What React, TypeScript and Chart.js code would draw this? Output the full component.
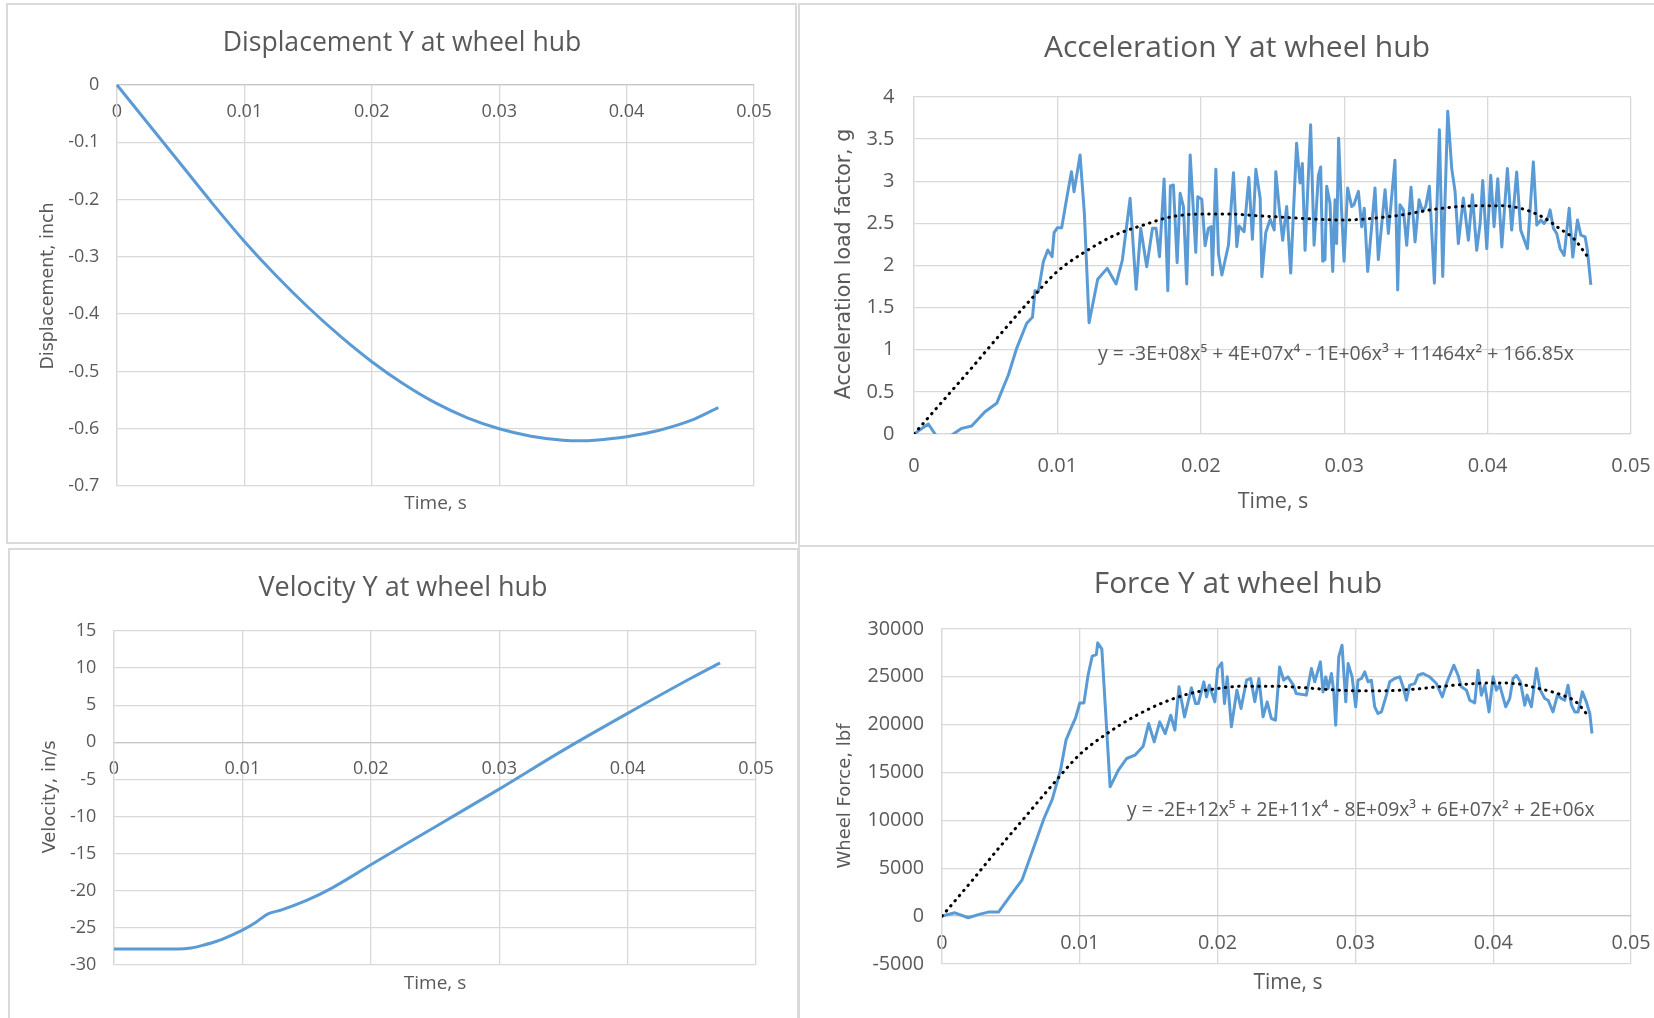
import React, { useEffect, useRef } from "react";
import { Chart, registerables } from "chart.js";

Chart.register(...registerables);

// ---------- series data ----------
// Displacement Y at wheel hub (inch)
const dispTime = [0, 0.0025, 0.005, 0.0075, 0.01, 0.0125, 0.015, 0.0175, 0.02, 0.0225, 0.025, 0.0275, 0.03, 0.0325, 0.035, 0.0365, 0.0375, 0.04, 0.0425, 0.045, 0.0472];
const dispInch = [0, -0.069, -0.138, -0.207, -0.273, -0.333, -0.388, -0.438, -0.483, -0.522, -0.555, -0.581, -0.6, -0.613, -0.62, -0.621, -0.62, -0.614, -0.603, -0.586, -0.563];

// Velocity Y at wheel hub (in/s)
const velTime = [0, 0.002, 0.004, 0.005, 0.006, 0.007, 0.008, 0.009, 0.01, 0.011, 0.012, 0.013, 0.015, 0.017, 0.02, 0.025, 0.03, 0.035, 0.04, 0.045, 0.0472];
const velInS = [-27.85, -27.85, -27.85, -27.85, -27.7, -27.3, -26.8, -26.1, -25.3, -24.3, -23.1, -22.6, -21.3, -19.6, -16.5, -11.4, -6.3, -1.05, 3.9, 8.7, 10.7];

// Acceleration Y at wheel hub (g)
const accTime = [
  0, 0.001, 0.0017, 0.0023, 0.00333, 0.00402, 0.00495, 0.00577, 0.00658, 0.00716,
  0.00786, 0.00826, 0.00844, 0.00867, 0.00902, 0.00933, 0.00963, 0.00977, 0.01, 0.0103,
  0.01065, 0.01098, 0.01116, 0.01158, 0.01188, 0.01221, 0.01281, 0.01347, 0.01409, 0.01453,
  0.01507, 0.01549, 0.01581, 0.01623, 0.01663, 0.01688, 0.01712, 0.01744, 0.0177, 0.01788,
  0.01809, 0.01835, 0.01856, 0.01879, 0.01902, 0.01926, 0.01965, 0.01979, 0.02007, 0.0203,
  0.02053, 0.02072, 0.02081, 0.02105, 0.02123, 0.02147, 0.02193, 0.02228, 0.02251, 0.02267,
  0.02302, 0.02335, 0.0236, 0.02384, 0.02414, 0.02426, 0.02453, 0.02484, 0.02512, 0.02523,
  0.02547, 0.02571, 0.02599, 0.02627, 0.02668, 0.02692, 0.02708, 0.02727, 0.02766, 0.0279,
  0.0282, 0.02836, 0.0285, 0.02866, 0.02878, 0.02901, 0.0292, 0.02936, 0.02947, 0.02961,
  0.02982, 0.02999, 0.03024, 0.03052, 0.03068, 0.03099, 0.03122, 0.0314, 0.03164, 0.03215,
  0.03238, 0.03285, 0.03308, 0.03354, 0.03373, 0.03389, 0.03413, 0.03436, 0.03466, 0.03494,
  0.03522, 0.03547, 0.03568, 0.03594, 0.03629, 0.03664, 0.03687, 0.03722, 0.0375, 0.03773,
  0.03796, 0.03831, 0.03866, 0.03894, 0.03924, 0.03948, 0.03966, 0.03994, 0.04022, 0.04045,
  0.04071, 0.04099, 0.04138, 0.04168, 0.04203, 0.04231, 0.04278, 0.04319, 0.04343, 0.04371,
  0.04394, 0.04424, 0.04436, 0.04459, 0.04482, 0.04506, 0.04534, 0.04569, 0.04594, 0.04627,
  0.0465, 0.0468, 0.04696, 0.0472,
];
const accG = [
  0, 0.119, -0.06, -0.05, 0.067, 0.095, 0.265, 0.364, 0.7, 1.017,
  1.314, 1.385, 1.701, 1.689, 2.045, 2.184, 2.105, 2.39, 2.449, 2.449,
  2.797, 3.114, 2.876, 3.312, 2.619, 1.321, 1.836, 1.966, 1.78, 2.065,
  2.797, 1.717, 2.441, 1.986, 2.441, 2.441, 2.105, 3.027, 1.701, 2.944,
  2.955, 2.034, 2.857, 2.698, 1.78, 3.312, 2.156, 2.817, 2.785, 2.235,
  2.441, 2.461, 1.887, 3.141, 2.144, 1.887, 2.243, 3.102, 2.224, 2.469,
  2.402, 3.046, 2.311, 3.141, 2.797, 1.867, 2.39, 2.548, 2.421, 3.114,
  2.68, 2.3, 2.7, 1.91, 3.45, 2.98, 3.21, 2.18, 3.67, 2.24,
  3.07, 3.17, 2.05, 2.07, 2.94, 2.74, 1.93, 2.78, 2.26, 3.51,
  2.64, 2.05, 2.92, 2.7, 2.72, 2.88, 2.46, 2.68, 1.93, 2.92,
  2.07, 2.9, 2.38, 3.25, 1.71, 2.72, 2.66, 2.24, 2.93, 2.28,
  2.78, 2.64, 2.7, 2.94, 1.79, 3.61, 1.87, 3.83, 3.15, 2.88,
  2.26, 2.8, 2.3, 2.84, 2.18, 2.5, 3.01, 2.2, 3.07, 2.46,
  3.03, 2.22, 3.15, 2.42, 3.11, 2.42, 2.2, 3.23, 2.48, 2.54,
  2.5, 2.58, 2.66, 2.44, 2.38, 2.2, 2.12, 2.68, 2.1, 2.54,
  2.36, 2.34, 2.18, 1.77,
];
// 5th-order polynomial trend of the acceleration
const accTrendTime = [0, 0.002, 0.004, 0.006, 0.008, 0.01, 0.012, 0.014, 0.016, 0.018, 0.02, 0.022, 0.024, 0.026, 0.028, 0.03, 0.032, 0.034, 0.036, 0.038, 0.04, 0.041, 0.042, 0.043, 0.044, 0.045, 0.046, 0.047];
const accTrendG = [0, 0.39, 0.78, 1.18, 1.57, 1.93, 2.17, 2.36, 2.48, 2.58, 2.61, 2.61, 2.59, 2.57, 2.55, 2.54, 2.56, 2.6, 2.66, 2.7, 2.71, 2.71, 2.69, 2.64, 2.56, 2.44, 2.32, 2.1];
const accEquation = "y = -3E+08x\u2075 + 4E+07x\u2074 - 1E+06x\u00b3 + 11464x\u00b2 + 166.85x";

// Force Y at wheel hub (lbf)
const forceTime = [
  0, 0.00094, 0.0019, 0.00276, 0.00336, 0.0041, 0.0049, 0.0058, 0.0065, 0.0074,
  0.008, 0.0086, 0.009, 0.0093, 0.0097, 0.01, 0.0103, 0.0106, 0.0109, 0.0112,
  0.0113, 0.0116, 0.0122, 0.0128, 0.0134, 0.014, 0.0146, 0.015, 0.0154, 0.0158,
  0.0162, 0.0166, 0.0169, 0.0172, 0.0176, 0.0181, 0.0184, 0.0186, 0.019, 0.0192,
  0.0194, 0.0198, 0.02, 0.0203, 0.0205, 0.0207, 0.021, 0.0214, 0.0217, 0.0221,
  0.0224, 0.0227, 0.023, 0.0233, 0.0236, 0.0239, 0.0242, 0.0245, 0.0248, 0.0251,
  0.0255, 0.0257,
  0.02644, 0.02681, 0.02705, 0.02746, 0.02765, 0.02785, 0.02802, 0.02826, 0.02843, 0.02857,
  0.02879, 0.02903, 0.0293, 0.02947, 0.02976, 0.03002, 0.03019, 0.03044, 0.03068, 0.03092,
  0.03116, 0.0314, 0.03164, 0.03189, 0.03225, 0.03249, 0.03285, 0.03322, 0.03346, 0.0337,
  0.03394, 0.03431, 0.03455, 0.03491, 0.03515, 0.03539, 0.03588, 0.03631, 0.0366, 0.03685,
  0.03714, 0.03745, 0.03769, 0.03806, 0.0383, 0.03866, 0.0389, 0.03914, 0.03939, 0.0397,
  0.03999, 0.04023, 0.04047, 0.04091, 0.0412, 0.04144, 0.04168, 0.04197, 0.04229, 0.04246,
  0.04277, 0.04314, 0.04342, 0.04374, 0.04398, 0.04434, 0.04466, 0.04495, 0.04519, 0.04543,
  0.04568, 0.04592, 0.04616, 0.04647, 0.04676, 0.04701, 0.04717,
];
const forceLbf = [
  0, 350, -170, 210, 420, 420, 2020, 3760, 6550, 10200,
  12190, 15250, 18390, 19430, 20750, 22280, 22280, 25170, 27160, 27330,
  28550, 27890, 13510, 15250, 16470, 16820, 17760, 20120, 18210, 20300,
  19080, 20990, 19430, 23960, 20820, 23850, 22210, 22210, 24480, 22910,
  24130, 22390, 25870, 26460, 22210, 25000, 19780, 23610, 21690, 24650,
  24830, 22390, 24830, 20820, 22390, 20650, 20470, 26040, 24650, 25000,
  24130, 23260,
  23090, 25870, 24480, 26570, 23430, 25000, 23780, 25350, 23430, 19950,
  27090, 28310, 22390, 26390, 25000, 21870, 24650, 24830, 25520, 24480,
  24650, 21870, 21170, 21340, 23090, 24480, 24830, 25000, 23960, 22560,
  24130, 24300, 25170, 25350, 25170, 25000, 24300, 22910, 24300, 25170,
  26220, 25170, 23960, 23610, 22560, 22280, 25700, 23090, 24130, 21340,
  25000, 23610, 24130, 21870, 22740, 24830, 25170, 24480, 22040, 23090,
  21870, 25870, 23610, 22740, 22560, 21340, 23090, 22740, 22560, 24130,
  22040, 21340, 21340, 23430, 22390, 21170, 19080,
];
// 5th-order polynomial trend of the force
const forceTrendTime = [0, 0.002, 0.004, 0.006, 0.008, 0.01, 0.012, 0.014, 0.016, 0.018, 0.02, 0.022, 0.024, 0.026, 0.028, 0.03, 0.032, 0.034, 0.036, 0.038, 0.04, 0.042, 0.043, 0.044, 0.045, 0.046, 0.047];
const forceTrendLbf = [0, 3400, 6900, 10300, 13700, 16900, 19100, 20890, 22280, 23260, 23780, 24030, 24030, 23890, 23680, 23540, 23540, 23680, 23960, 24230, 24370, 24230, 23890, 23540, 23090, 22390, 20750];
const forceEquation = "y = -2E+12x\u2075 + 2E+11x\u2074 - 8E+09x\u00b3 + 6E+07x\u00b2 + 2E+06x";

// ---------- styling ----------
const W = 1654;
const H = 1018;
const Y_AXIS_W = 80;
const X_AXIS_H = 60;
const TEXT = "#595959";
const GRID = "#d9d9d9";
const AXIS_LINE = "#c6c6c6";
const BLUE = "#5b9bd5";
const SANS = "'Open Sans', 'Noto Sans', 'DejaVu Sans', sans-serif";
const WIDE = "'DejaVu Sans', Verdana, sans-serif";

const fmt = (v: number | string) => String(Math.round(Number(v) * 1e6) / 1e6);
const pts = (xs: number[], ys: number[]) => xs.map((x, i) => ({ x, y: ys[i] }));

const lineSet = (xs: number[], ys: number[], smooth: boolean) => ({
  data: pts(xs, ys),
  showLine: true,
  borderColor: BLUE,
  backgroundColor: BLUE,
  borderWidth: 3,
  pointRadius: 0,
  borderJoinStyle: "round" as const,
  cubicInterpolationMode: smooth ? ("monotone" as const) : ("default" as const),
  tension: 0,
  ...(smooth ? { clip: 4 } : {}),
});

const trendSet = (xs: number[], ys: number[]) => ({
  data: pts(xs, ys),
  showLine: true,
  borderColor: "#000000",
  borderWidth: 3,
  borderDash: [0.5, 6.2],
  borderCapStyle: "round" as const,
  pointRadius: 0,
  cubicInterpolationMode: "monotone" as const,
});

// Titles, axis titles and trend equations drawn onto each chart
const decorPlugin = {
  id: "decor",
  afterDraw(chart: any, _args: any, o: any) {
    const ctx: CanvasRenderingContext2D = chart.ctx;
    ctx.save();
    ctx.fillStyle = TEXT;
    ctx.textAlign = "center";
    ctx.textBaseline = "middle";
    ctx.font = `${o.titleSize}px ${SANS}`;
    ctx.fillText(o.title, o.titleX, o.titleY);
    ctx.font = `${o.xTitleSize}px ${SANS}`;
    ctx.fillText(o.xTitle, o.xTitleX, o.xTitleY);
    ctx.save();
    ctx.translate(o.yTitleX, o.yTitleY);
    ctx.rotate(-Math.PI / 2);
    ctx.font = `${o.yTitleSize}px ${WIDE}`;
    ctx.fillText(o.yTitle, 0, 0);
    ctx.restore();
    if (o.eq) {
      ctx.textAlign = "left";
      ctx.font = `${o.eqSize}px ${SANS}`;
      ctx.fillText(o.eq, o.eqX, o.eqY);
    }
    ctx.restore();
  },
};

interface Spec {
  plot: { left: number; top: number; right: number; bottom: number };
  xAtZero: boolean;
  yMin: number;
  yMax: number;
  yStep: number;
  tickSize: number;
  yPad: number;
  xPad: number;
  datasets: any[];
  decor: any;
}

function buildConfig(s: Spec): any {
  const font = { family: SANS, size: s.tickSize };
  return {
    type: "scatter",
    data: { datasets: s.datasets },
    options: {
      responsive: false,
      animation: false,
      devicePixelRatio: 1,
      events: [],
      layout: {
        padding: {
          left: s.plot.left - Y_AXIS_W,
          top: s.plot.top,
          right: W - s.plot.right,
          bottom: H - s.plot.bottom - (s.xAtZero ? 0 : X_AXIS_H),
        },
      },
      plugins: {
        legend: { display: false },
        tooltip: { enabled: false },
        title: { display: false },
        decor: s.decor,
      },
      scales: {
        x: {
          type: "linear",
          min: 0,
          max: 0.05,
          position: s.xAtZero ? { y: 0 } : "bottom",
          afterFit: (sc: any) => {
            sc.height = s.xAtZero ? 0 : X_AXIS_H;
            sc.paddingLeft = 0;
            sc.paddingRight = 0;
          },
          ticks: { stepSize: 0.01, callback: fmt, font, color: TEXT, padding: s.xPad, maxRotation: 0, minRotation: 0, autoSkip: false },
          grid: { color: GRID, lineWidth: 1.3, drawTicks: false },
          border: { color: s.xAtZero ? AXIS_LINE : GRID, width: 1.3 },
        },
        y: {
          type: "linear",
          min: s.yMin,
          max: s.yMax,
          afterFit: (sc: any) => {
            sc.width = Y_AXIS_W;
            sc.paddingTop = 0;
            sc.paddingBottom = 0;
          },
          ticks: { stepSize: s.yStep, callback: fmt, font, color: TEXT, padding: s.yPad, autoSkip: false },
          grid: { color: GRID, lineWidth: 1.3, drawTicks: false },
          border: { color: GRID, width: 1.3 },
        },
      },
    },
    plugins: [decorPlugin],
  };
}

const specs: Spec[] = [
  {
    plot: { left: 117, top: 85, right: 754, bottom: 486 },
    xAtZero: true,
    yMin: -0.7,
    yMax: 0,
    yStep: 0.1,
    tickSize: 18,
    yPad: 17.7,
    xPad: 16.5,
    datasets: [lineSet(dispTime, dispInch, true)],
    decor: {
      title: "Displacement Y at wheel hub", titleSize: 26.6, titleX: 402, titleY: 43,
      xTitle: "Time, s", xTitleSize: 19, xTitleX: 435.5, xTitleY: 504,
      yTitle: "Displacement, inch", yTitleSize: 17.4, yTitleX: 48.5, yTitleY: 286,
    },
  },
  {
    plot: { left: 914, top: 97, right: 1631, bottom: 434 },
    xAtZero: false,
    yMin: 0,
    yMax: 4,
    yStep: 0.5,
    tickSize: 20,
    yPad: 19.5,
    xPad: 20,
    datasets: [trendSet(accTrendTime, accTrendG), lineSet(accTime, accG, false)],
    decor: {
      title: "Acceleration Y at wheel hub", titleSize: 30, titleX: 1237, titleY: 48,
      xTitle: "Time, s", xTitleSize: 21.5, xTitleX: 1273, xTitleY: 502,
      yTitle: "Acceleration load factor, g", yTitleSize: 20.5, yTitleX: 845, yTitleY: 264,
      eq: accEquation, eqSize: 19.4, eqX: 1098, eqY: 354,
    },
  },
  {
    plot: { left: 114, top: 631, right: 756, bottom: 965 },
    xAtZero: true,
    yMin: -30,
    yMax: 15,
    yStep: 5,
    tickSize: 18,
    yPad: 17.7,
    xPad: 16,
    datasets: [lineSet(velTime, velInS, true)],
    decor: {
      title: "Velocity Y at wheel hub", titleSize: 27, titleX: 403, titleY: 588,
      xTitle: "Time, s", xTitleSize: 19, xTitleX: 435, xTitleY: 984,
      yTitle: "Velocity, in/s", yTitleSize: 17.9, yTitleX: 50.6, yTitleY: 797,
    },
  },
  {
    plot: { left: 942, top: 629, right: 1631, bottom: 964 },
    xAtZero: true,
    yMin: -5000,
    yMax: 30000,
    yStep: 5000,
    tickSize: 19.8,
    yPad: 18,
    xPad: 15.6,
    datasets: [trendSet(forceTrendTime, forceTrendLbf), lineSet(forceTime, forceLbf, false)],
    decor: {
      title: "Force Y at wheel hub", titleSize: 29.8, titleX: 1238, titleY: 585,
      xTitle: "Time, s", xTitleSize: 21, xTitleX: 1288, xTitleY: 983,
      yTitle: "Wheel Force, lbf", yTitleSize: 18, yTitleX: 845, yTitleY: 796,
      eq: forceEquation, eqSize: 19.3, eqX: 1127, eqY: 811,
    },
  },
];

// Panel frames around each chart
const frames = [
  { left: 6, top: 3, width: 791, height: 541 },
  { left: 798, top: 3, width: 900, height: 544 },
  { left: 8, top: 548, width: 791, height: 600 },
  { left: 798, top: 545, width: 900, height: 600 },
];

export default function App() {
  const refs = useRef<(HTMLCanvasElement | null)[]>([]);

  useEffect(() => {
    const charts = specs.map((s, i) => new Chart(refs.current[i] as HTMLCanvasElement, buildConfig(s)));
    return () => charts.forEach((c) => c.destroy());
  }, []);

  return (
    <div style={{ position: "absolute", left: 0, top: 0, width: W, height: H, overflow: "hidden", background: "#ffffff" }}>
      {frames.map((f, i) => (
        <div
          key={`f${i}`}
          style={{ position: "absolute", left: f.left, top: f.top, width: f.width, height: f.height, border: "2px solid #dadada", boxSizing: "border-box" }}
        />
      ))}
      {specs.map((_, i) => (
        <canvas
          key={`c${i}`}
          ref={(el) => {
            refs.current[i] = el;
          }}
          width={W}
          height={H}
          style={{ position: "absolute", left: 0, top: 0, width: W, height: H }}
        />
      ))}
    </div>
  );
}
